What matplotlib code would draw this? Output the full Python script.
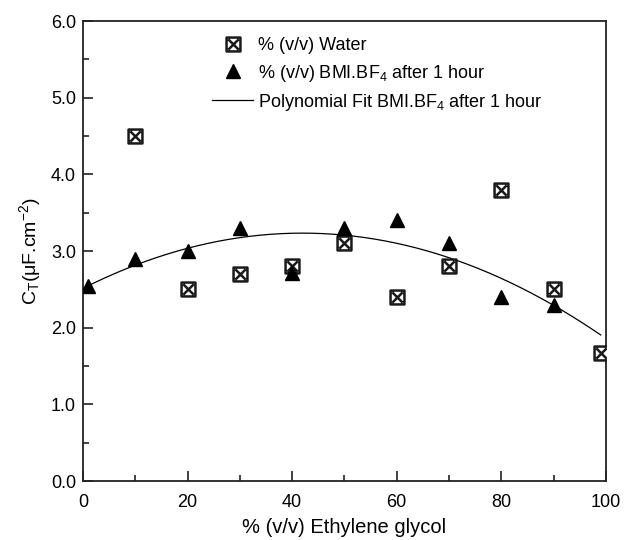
import numpy as np
import matplotlib
matplotlib.use("Agg")
import matplotlib.pyplot as plt
from matplotlib.path import Path
from matplotlib.ticker import MultipleLocator

plt.rcParams['font.family'] = ['Liberation Sans', 'DejaVu Sans']
plt.rcParams['mathtext.fontset'] = 'custom'
plt.rcParams['mathtext.rm'] = 'Liberation Sans'
plt.rcParams['mathtext.it'] = 'Liberation Sans:italic'

water_x = [10, 20, 30, 40, 50, 60, 70, 80, 90, 99]
water_y = [4.5, 2.5, 2.7, 2.8, 3.1, 2.4, 2.8, 3.8, 2.5, 1.67]
bmi_x = [1, 10, 20, 30, 40, 50, 60, 70, 80, 90]
bmi_y = [2.55, 2.9, 3.0, 3.3, 2.72, 3.3, 3.4, 3.1, 2.4, 2.3]
fit_range = [0, 99]

fig = plt.figure(figsize=(6.24, 5.4), dpi=100)
ax = fig.add_axes([0.133, 0.109, 0.838, 0.852])

# square with an X
verts = [(-1, -1), (1, -1), (1, 1), (-1, 1), (-1, -1),
         (-0.75, -0.75), (0.75, 0.75), (-0.75, 0.75), (0.75, -0.75)]
codes = [Path.MOVETO, Path.LINETO, Path.LINETO, Path.LINETO, Path.CLOSEPOLY,
         Path.MOVETO, Path.LINETO, Path.MOVETO, Path.LINETO]
boxx = Path(verts, codes)

ax.plot(water_x, water_y, linestyle='none', marker=boxx, markersize=10,
        markerfacecolor='white', markeredgecolor='#1a1a1a', markeredgewidth=1.8,
        label='% (v/v) Water', zorder=3)
ax.plot(bmi_x, bmi_y, linestyle='none', marker='^', markersize=10.5,
        color='black', label='% (v/v) BMI.BF$_4$ after 1 hour', zorder=3)

coef = np.polyfit(bmi_x, bmi_y, 2)
xf = np.linspace(fit_range[0], fit_range[1], 200)
ax.plot(xf, np.polyval(coef, xf), color='black', linewidth=0.9,
        label='Polynomial Fit BMI.BF$_4$ after 1 hour', zorder=2)

ax.set_xlim(0, 100)
ax.set_ylim(0, 6)
ax.xaxis.set_major_locator(MultipleLocator(20))
ax.xaxis.set_minor_locator(MultipleLocator(10))
ax.yaxis.set_major_locator(MultipleLocator(1))
ax.yaxis.set_minor_locator(MultipleLocator(0.5))
ax.set_yticks(np.arange(0, 6.01, 1.0))
ax.set_yticklabels([f'{v:.1f}' for v in np.arange(0, 6.01, 1.0)])
ax.tick_params(which='both', direction='in', labelsize=13, width=1.2, color='#222222')
ax.tick_params(which='major', length=7)
ax.tick_params(which='minor', length=4)
ax.tick_params(axis='y', pad=5)
ax.tick_params(axis='x', pad=9)
for s in ax.spines.values():
    s.set_linewidth(1.3)
    s.set_color('#222222')

ax.set_xlabel('% (v/v) Ethylene glycol', fontsize=14.5, labelpad=5)
ax.set_ylabel('C$_\\mathregular{T}$(μF.cm$^\\mathregular{-2}$)', fontsize=14, labelpad=6)

ax.legend(loc='upper left', bbox_to_anchor=(0.233, 0.98), frameon=False, fontsize=13,
          handlelength=2.27, handletextpad=0.25, labelspacing=0.45, borderaxespad=0.0)

fig.savefig('out.png', dpi=100)
